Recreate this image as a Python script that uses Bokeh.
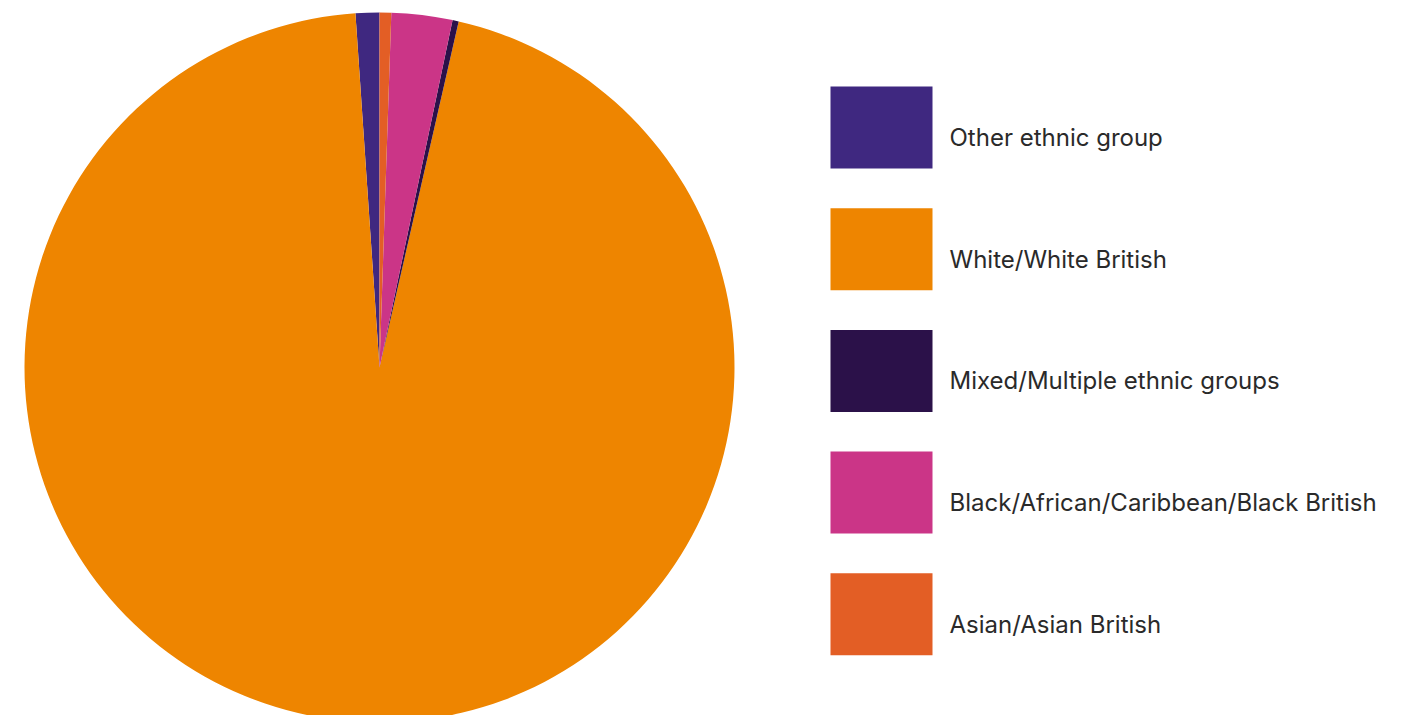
import numpy as np
from bokeh.plotting import figure
from bokeh.models import Range1d
from bokeh.core.properties import value
from bokeh.embed import file_html
from bokeh.resources import INLINE

categories = ["Other ethnic group", "White/White British", "Mixed/Multiple ethnic groups",
              "Black/African/Caribbean/Black British", "Asian/Asian British"]
shares = [1.08, 95.34, 0.28, 2.77, 0.53]
colors = ["#3F2880", "#EE8500", "#2B1149", "#CB3587", "#E35E25"]

W, H = 1414, 715
p = figure(width=W, height=H, output_backend="svg", toolbar_location=None,
           x_range=Range1d(0, W), y_range=Range1d(0, H), min_border=0)
p.axis.visible = False
p.grid.visible = False
p.outline_line_color = None
p.background_fill_color = "white"

vals = np.array(shares, dtype=float)
frac = vals / vals.sum()
ends = np.pi / 2 + 2 * np.pi * np.cumsum(frac)
starts = np.concatenate([[np.pi / 2], ends[:-1]])

cx, cy, r = 379, H - 367, 355
p.wedge(x=[cx] * len(vals), y=[cy] * len(vals), radius=r,
        start_angle=list(starts), end_angle=list(ends),
        fill_color=colors, line_color=None)

# legend
top0, step, bw, bh = 86, 121.7, 102, 82
lx = 830
tops = [H - (top0 + i * step) for i in range(len(categories))]
p.quad(left=[lx] * len(categories), right=[lx + bw] * len(categories),
       top=tops, bottom=[t - bh for t in tops], fill_color=colors, line_color=None)
p.text(x=[949] * len(categories), y=[t - bh / 2 - 10 for t in tops], text=categories,
       text_font=value("Inter"), text_font_size="24px", text_color="#2a2a2a",
       text_baseline="middle", text_align="left")

open("out.html", "w").write(file_html(p, INLINE))
